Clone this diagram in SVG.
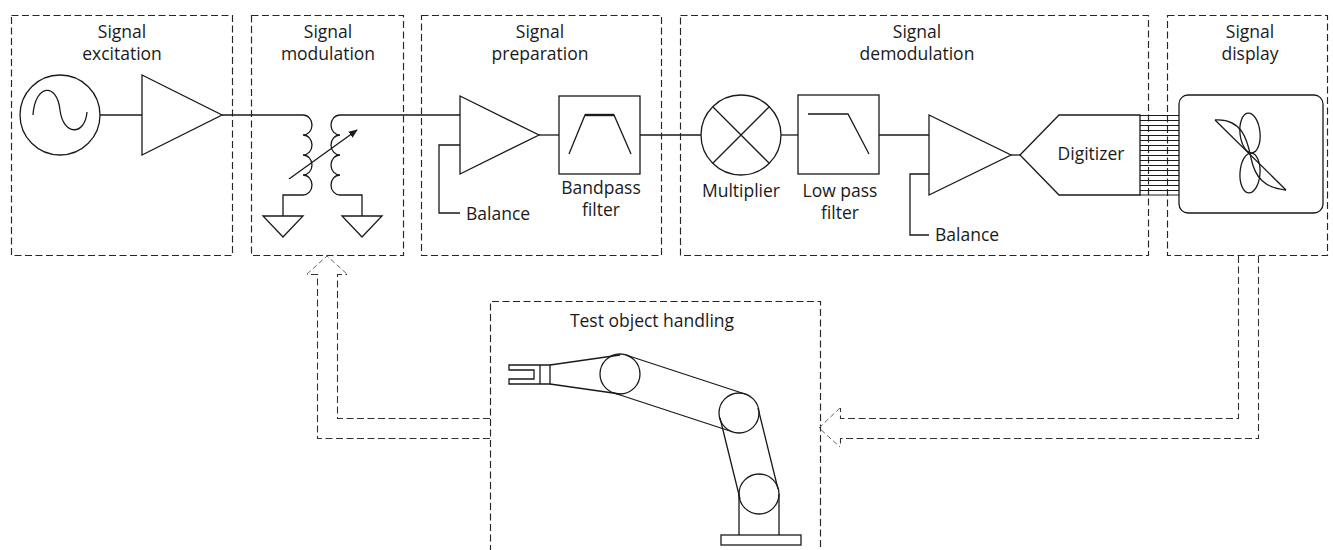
<svg xmlns="http://www.w3.org/2000/svg" width="1333" height="550" viewBox="0 0 1333 550">
  <style>
    .frame { fill: none; stroke: #262626; stroke-width: 1.15; stroke-dasharray: 7 3.5; }
    .flow { fill: none; stroke: #333; stroke-width: 1.1; stroke-dasharray: 7 3.5; }
    .tip { fill: none; stroke: #666; stroke-width: 1; stroke-dasharray: 5 3; }
    .part { fill: none; stroke: #1a1a1a; stroke-width: 1.3; stroke-linejoin: miter; }
    .wire { fill: none; stroke: #1a1a1a; stroke-width: 1.3; }
    .title { font-family: "Open Sans", "Liberation Sans", sans-serif; font-size: 17.5px; fill: #1a1a1a; text-anchor: middle; }
    .label { font-family: "Open Sans", "Liberation Sans", sans-serif; font-size: 17.5px; fill: #1a1a1a; }
  </style>
  <defs>
    <marker id="head" viewBox="0 0 10 10" refX="9" refY="5" markerWidth="9" markerHeight="9" markerUnits="userSpaceOnUse" orient="auto">
      <path d="M0,1 L10,5 L0,9 Z" fill="#1a1a1a"/>
    </marker>
  </defs>

  <rect width="1333" height="550" fill="#fff"/>

  <!-- Excitation stage: oscillator and driver amplifier -->
  <g id="excitation">
    <rect class="frame" x="11.5" y="15.5" width="221" height="240"/>
    <text class="title" x="122" y="38">Signal</text>
    <text class="title" x="122" y="60">excitation</text>
    <circle class="part" cx="60" cy="115" r="40"/>
    <path class="part" d="M33,115 C35,84 57,82 60,110 C63,136 85,136 87,112"/>
    <polygon class="part" points="142,75 142,155 222,115"/>
  </g>

  <!-- Modulation stage: coupled coils with variable coupling -->
  <g id="modulation">
    <rect class="frame" x="251.5" y="15.5" width="152" height="240"/>
    <text class="title" x="328" y="38">Signal</text>
    <text class="title" x="328" y="60">modulation</text>
    <path class="part" d="M303,115 a9,10 0 0 1 0,20 a9,10 0 0 1 0,20 a9,10 0 0 1 0,20 a9,10 0 0 1 0,20 H283 V216"/>
    <path class="part" d="M340,115 a9,10 0 0 0 0,20 a9,10 0 0 0 0,20 a9,10 0 0 0 0,20 a9,10 0 0 0 0,20 H362 V216"/>
    <polygon class="part" points="263,216 303,216 283,237"/>
    <polygon class="part" points="342,216 382,216 362,237"/>
    <line class="wire" x1="289" y1="179" x2="357" y2="130" marker-end="url(#head)"/>
  </g>

  <!-- Preparation stage: balanced amplifier and bandpass filter -->
  <g id="preparation">
    <rect class="frame" x="421.5" y="15.5" width="240" height="240"/>
    <text class="title" x="540" y="38">Signal</text>
    <text class="title" x="540" y="60">preparation</text>
    <polygon class="part" points="460,96 460,174 539,135"/>
    <path class="wire" d="M460,145 H439 V213 H460"/>
    <text class="label" x="466" y="220">Balance</text>
    <rect class="part" x="559" y="96" width="81" height="78"/>
    <path class="part" d="M569,154 L585,115 H614 L631,154"/>
    <line x1="585" y1="115" x2="614" y2="115" stroke="#1a1a1a" stroke-width="2.4"/>
    <text class="title" x="601" y="194">Bandpass</text>
    <text class="title" x="601" y="216">filter</text>
  </g>

  <!-- Demodulation stage: multiplier, low pass, amplifier, digitizer -->
  <g id="demodulation">
    <rect class="frame" x="680.5" y="15.5" width="468" height="240"/>
    <text class="title" x="917" y="38">Signal</text>
    <text class="title" x="917" y="60">demodulation</text>
    <circle class="part" cx="741" cy="135" r="40"/>
    <path class="part" d="M713,107 L769,163 M769,107 L713,163"/>
    <text class="title" x="741" y="197">Multiplier</text>
    <rect class="part" x="798" y="95" width="81" height="79"/>
    <path class="part" d="M808,114 H848 L869,154"/>
    <text class="title" x="840" y="197">Low pass</text>
    <text class="title" x="840" y="219">filter</text>
    <polygon class="part" points="929,115 929,195 1011,155"/>
    <path class="wire" d="M929,174 H910 V235 H929"/>
    <text class="label" x="935" y="241">Balance</text>
    <polygon class="part" points="1020,155 1059,115 1140,115 1140,195 1059,195"/>
    <text class="title" x="1091" y="160">Digitizer</text>
  </g>

  <!-- Display stage: screen with Lissajous trace -->
  <g id="display">
    <rect class="frame" x="1167.5" y="15.5" width="160" height="240"/>
    <text class="title" x="1250" y="38">Signal</text>
    <text class="title" x="1250" y="60">display</text>
    <rect class="part" x="1179" y="95" width="144" height="118" rx="9"/>
    <line class="part" stroke-width="1" x1="1215" y1="120" x2="1286" y2="190"/>
    <path class="part" stroke-width="1" d="M1215,120 C1244,118 1248,144 1251,158 C1255,178 1265,188 1286,190"/>
    <ellipse class="part" stroke-width="1" cx="1250" cy="133" rx="10" ry="20" transform="rotate(-6 1250 133)"/>
    <ellipse class="part" stroke-width="1" cx="1250" cy="173" rx="10" ry="20" transform="rotate(4 1250 173)"/>
  </g>

  <!-- Handling stage: articulated robot arm -->
  <g id="handling">
    <path class="frame" d="M490.5,552 V301.5 H820.5 V552"/>
    <text class="title" x="652" y="327">Test object handling</text>
    <path class="part" d="M550,365 H509 V370 H534 V379 H509 V384 H550 Z M540,365 V384"/>
    <path class="part" d="M550,365 L620,355 M550,384 L620,394"/>
    <circle class="part" cx="620" cy="374" r="20"/>
    <path class="part" d="M626,355 L745,394 M614,393 L733,432"/>
    <circle class="part" cx="739" cy="413" r="20"/>
    <path class="part" d="M758,408 L778,489 M720,418 L740,499"/>
    <circle class="part" cx="759" cy="494" r="20"/>
    <path class="part" d="M739,494 V535 M779,494 V535"/>
    <rect class="part" x="721" y="535" width="80" height="10"/>
  </g>

  <!-- Signal path and feedback connectors -->
  <g id="connectors">
    <path class="wire" d="M100,115 H142"/>
    <path class="wire" d="M222,115 H303"/>
    <path class="wire" d="M340,115 H460"/>
    <path class="wire" d="M539,135 H559"/>
    <path class="wire" d="M640,135 H701"/>
    <path class="wire" d="M781,135 H798"/>
    <path class="wire" d="M879,135 H929"/>
    <path class="wire" d="M1011,155 H1020"/>
    <!-- parallel data bus from digitizer to display -->
    <g stroke="#1a1a1a" stroke-width="1">
      <path d="M1140,115.5 H1179 M1140,120.5 H1179 M1140,125.5 H1179 M1140,130.5 H1179 M1140,135.5 H1179 M1140,140.5 H1179 M1140,145.5 H1179 M1140,150.5 H1179 M1140,155.5 H1179 M1140,160.5 H1179 M1140,165.5 H1179 M1140,170.5 H1179 M1140,175.5 H1179 M1140,180.5 H1179 M1140,185.5 H1179 M1140,190.5 H1179 M1140,195 H1179"/>
    </g>
    <!-- hollow feedback arrow: display to handling -->
    <path class="flow" d="M1238.5,256 V418.5 H840.5 V408"/>
    <path class="flow" d="M1258.5,256 V438.5 H840.5 V447"/>
    <path class="tip" d="M840,408 L819,428 L840,447"/>
    <!-- hollow feedback arrow: handling to modulation -->
    <path class="flow" d="M490,418.5 H337.5 V274.5 H347"/>
    <path class="flow" d="M490,438.5 H317.5 V274.5 H307"/>
    <path class="tip" d="M307,274 L327,256 L347,274"/>
  </g>
</svg>
